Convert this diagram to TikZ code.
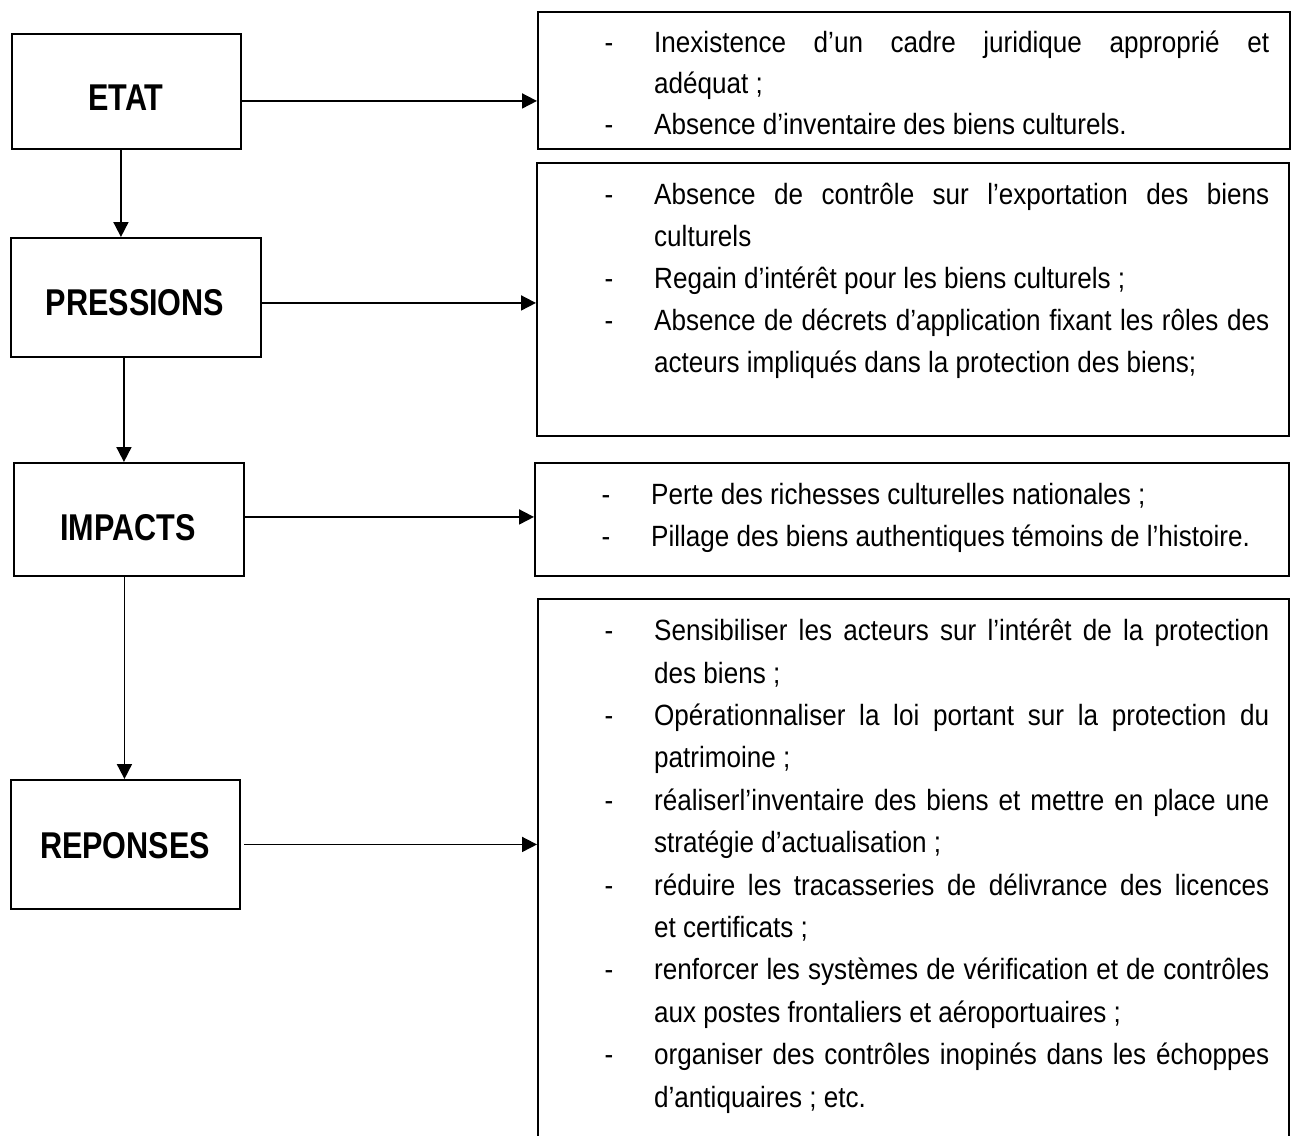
\documentclass[tikz,border=0pt]{standalone}
\usepackage{fontspec}
\setmainfont[FakeStretch=0.89]{Liberation Sans}
\newfontfamily\headfont[FakeStretch=0.82]{Liberation Sans}
\usetikzlibrary{arrows.meta}
\newcommand{\dashitem}{\par\noindent\llap{-\hskip41pt}}
\newcommand{\firstline}{\rule{0pt}{30pt}}
\begin{document}
\begin{tikzpicture}[x=1pt,y=-1pt,
  box/.style={draw, line width=1.9pt, inner sep=0pt, anchor=north west},
  head/.style={font=\headfont\bfseries\fontsize{37.3}{40}\selectfont, anchor=base, inner sep=0pt},
  body/.style={text width=615pt, align=justify, inner sep=0pt, anchor=north west,
    font=\fontsize{29.3}{42}\selectfont},
  arr/.style={line width=1.8pt, -{Triangle[length=15pt,width=15pt]}}]
\useasboundingbox (0,0) rectangle (1295,1135);
\clip (0,0) rectangle (1295,1135);
\fill[white] (0,0) rectangle (1295,1135);
% left boxes
\node[box, minimum width=229pt, minimum height=115pt] (etat) at (11,33) {};
\node[head] (etatl) at (126,110) {ETAT};
\node[box, minimum width=250pt, minimum height=119pt] (press) at (10,237) {};
\node[head] (pressl) at (135,315) {PRESSIONS};
\node[box, minimum width=230pt, minimum height=113pt] (imp) at (13,462) {};
\node[head] (impl) at (128,540) {IMPACTS};
\node[box, minimum width=229pt, minimum height=129pt] (rep) at (10,779) {};
\node[head] (repl) at (125,858) {REPONSES};
% right boxes
\node[box, minimum width=752pt, minimum height=137pt] (r1) at (537,11) {};
\node[box, minimum width=752pt, minimum height=273pt] (r2) at (536,162) {};
\node[box, minimum width=754pt, minimum height=113pt] (r3) at (534,462) {};
\node[box, minimum width=751pt, minimum height=560pt] (r4) at (537,598) {};
% texts
\node[body, font=\fontsize{29.3}{41}\selectfont] (t1) at (654,11) {\hyphenpenalty=10000 \tolerance=10000
\dashitem\firstline Inexistence d’un cadre juridique approprié et\linebreak adéquat ;
\dashitem Absence d’inventaire des biens culturels.};
\node[body] (t2) at (654,162) {\hyphenpenalty=10000 \tolerance=10000
\dashitem\firstline Absence de contrôle sur l’exportation des biens\linebreak culturels
\dashitem Regain d’intérêt pour les biens culturels ;
\dashitem Absence de décrets d’application fixant les rôles des\linebreak acteurs impliqués dans la protection des biens;};
\node[body] (t3) at (651,462) {\hyphenpenalty=10000 \tolerance=10000
\dashitem\firstline Perte des richesses culturelles nationales ;
\dashitem Pillage des biens authentiques témoins de l’histoire.};
\node[body, font=\fontsize{29.3}{42.4}\selectfont] (t4) at (654,598) {\hyphenpenalty=10000 \tolerance=10000
\dashitem\firstline Sensibiliser les acteurs sur l’intérêt de la protection\linebreak des biens ;
\dashitem Opérationnaliser la loi portant sur la protection du\linebreak patrimoine ;
\dashitem réaliserl’inventaire des biens et mettre en place une\linebreak stratégie d’actualisation ;
\dashitem réduire les tracasseries de délivrance des licences\linebreak et certificats ;
\dashitem renforcer les systèmes de vérification et de contrôles\linebreak aux postes frontaliers et aéroportuaires ;
\dashitem organiser des contrôles inopinés dans les échoppes\linebreak d’antiquaires ; etc.};
% horizontal arrows
\draw[arr] ([yshift=-9.5pt]etat.east) coordinate (h1) -- (h1 -| r1.west);
\draw[arr] ([yshift=-5.5pt]press.east) coordinate (h2) -- (h2 -| r2.west);
\draw[arr] ([yshift=2.5pt]imp.east) coordinate (h3) -- (h3 -| r3.west);
\draw[arr] ([xshift=3.5pt]rep.east) coordinate (h4) -- (h4 -| r4.west);
% vertical arrows
\draw[arr] ([xshift=-5.5pt]etat.south) coordinate (v1) -- (v1 |- press.north);
\draw[arr] ([xshift=-12pt]press.south) coordinate (v2) -- (v2 |- imp.north);
\draw[arr] ([xshift=-4.5pt]imp.south) coordinate (v3) -- (v3 |- rep.north);
\end{tikzpicture}
\end{document}
